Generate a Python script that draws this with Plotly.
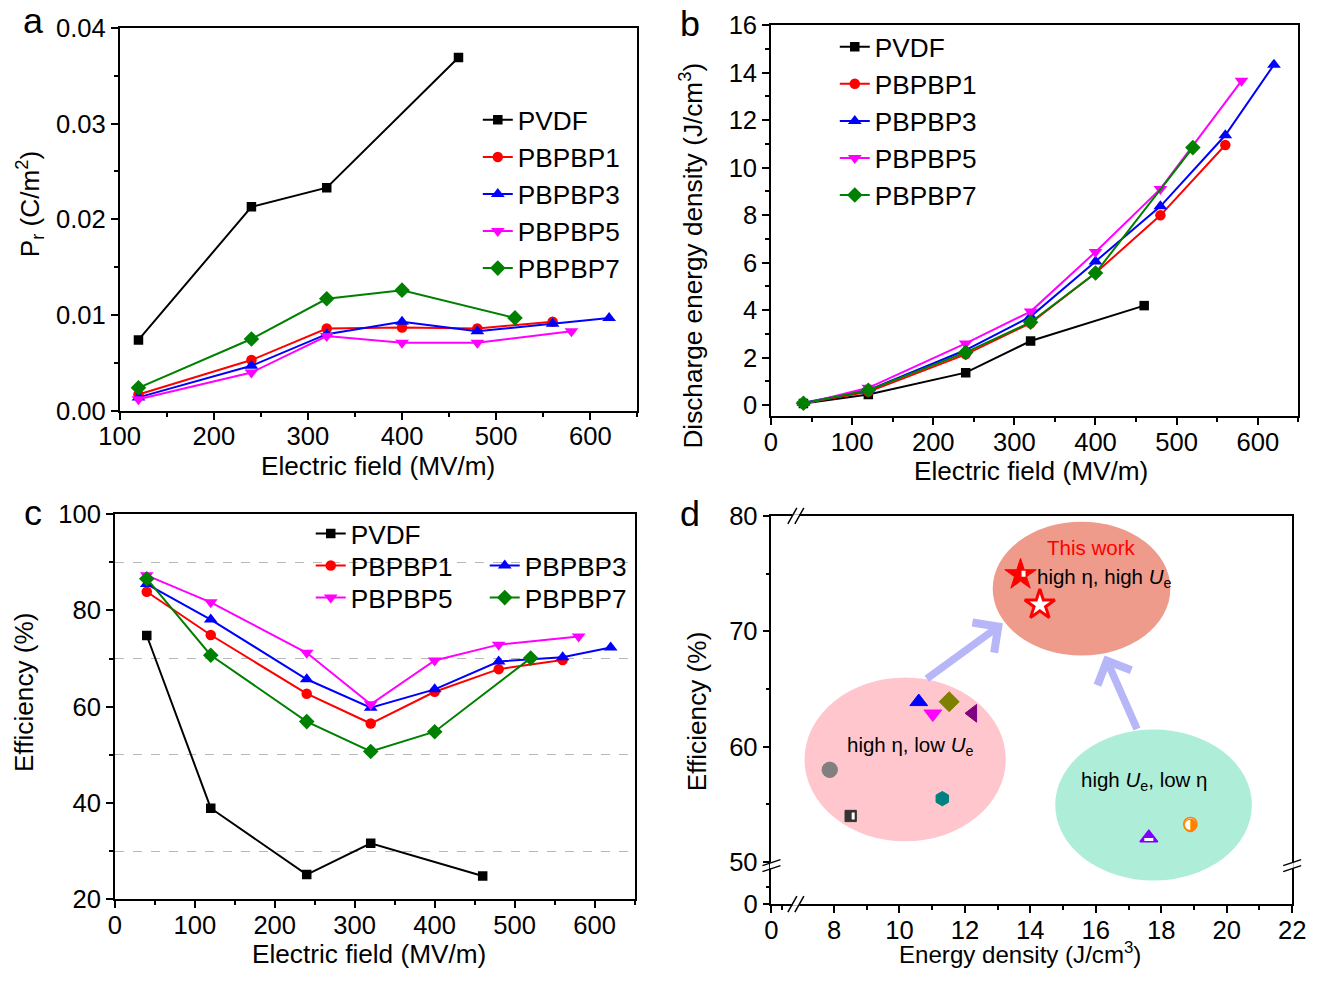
import plotly.graph_objects as go

# ---------------- data ----------------
SAMPLES = ["PVDF", "PBPBP1", "PBPBP3", "PBPBP5", "PBPBP7"]

# (a) remanent polarization vs field
FIELD_A = {
    "PVDF": [120, 240, 320, 460],
    "PBPBP1": [120, 240, 320, 400, 480, 560],
    "PBPBP3": [120, 240, 320, 400, 480, 560, 620],
    "PBPBP5": [120, 240, 320, 400, 480, 580],
    "PBPBP7": [120, 240, 320, 400, 520],
}
PR_PVDF = [0.0074, 0.0213, 0.0233, 0.0369]
PR_P1 = [0.0017, 0.0053, 0.0086, 0.0087, 0.0086, 0.0093]
PR_P3 = [0.0014, 0.0047, 0.0080, 0.0093, 0.0083, 0.0091, 0.0097]
PR_P5 = [0.0012, 0.0040, 0.0078, 0.0071, 0.0071, 0.0083]
PR_P7 = [0.0024, 0.0075, 0.0117, 0.0126, 0.0097]

# (b), (c) field points
FIELD_BC = {
    "PVDF": [40, 120, 240, 320, 460],
    "PBPBP1": [40, 120, 240, 320, 400, 480, 560],
    "PBPBP3": [40, 120, 240, 320, 400, 480, 560, 620],
    "PBPBP5": [40, 120, 240, 320, 400, 480, 580],
    "PBPBP7": [40, 120, 240, 320, 400, 520],
}
# (b) discharge energy density (J/cm3)
UE_PVDF = [0.07, 0.45, 1.37, 2.70, 4.19]
UE_P1 = [0.08, 0.56, 2.14, 3.45, 5.56, 7.99, 10.95]
UE_P3 = [0.10, 0.63, 2.32, 3.73, 6.05, 8.37, 11.36, 14.33]
UE_P5 = [0.05, 0.73, 2.60, 3.94, 6.45, 9.10, 13.65]
UE_P7 = [0.08, 0.63, 2.22, 3.49, 5.56, 10.84]

# (c) efficiency (%)
EFF_PVDF = [74.8, 38.9, 25.1, 31.6, 24.8]
EFF_P1 = [83.9, 74.9, 62.7, 56.5, 63.1, 67.8, 69.7]
EFF_P3 = [85.5, 78.1, 65.7, 59.8, 63.6, 69.4, 70.3, 72.3]
EFF_P5 = [87.3, 81.7, 71.2, 60.5, 69.6, 72.9, 74.6]
EFF_P7 = [86.6, 70.7, 56.9, 50.7, 54.8, 70.1]

# (d) comparison: energy density vs efficiency
THIS_WORK_U = [13.70, 14.29]
THIS_WORK_EFF = [74.9, 72.3]
HIGH_EFF_U = [10.59, 11.02, 11.52, 12.24, 7.87, 8.51, 11.31]
HIGH_EFF_EFF = [63.9, 62.85, 63.9, 62.9, 58.0, 54.0, 55.5]
HIGH_U_U = [17.62, 18.89]
HIGH_U_EFF = [52.1, 53.3]

# broken-axis layout of panel (d)
D_X_ZERO = 6.09      # position where the "0" of the x axis sits
D_Y_ZERO = 46.36     # position where the "0" of the y axis sits
D_X_BREAK = 6.85
D_Y_BREAK = 49.7
D_X_TICKS = [8, 10, 12, 14, 16, 18, 20, 22]
D_Y_TICKS = [50, 60, 70, 80]

# ---------------- page geometry ----------------
W, H = 1322, 981
# the rendered page is placed with a small offset and scale; positions
# below are given in final picture pixels and converted here
OX, SX = 18.5, 0.979
OY, SY = 14.5, 0.970
FS = 1 / 0.975  # font/marker compensation


def ix(t):
    return (t - OX) / SX


def iy(t):
    return (t - OY) / SY


def PX(t):
    return ix(t) / W


def PY(t):
    return 1 - iy(t) / H


def f(sz):
    return round(sz * FS, 1)


FONT = "Liberation Sans, Arial, sans-serif"
COLORS = {"PVDF": "#000000", "PBPBP1": "#ff0000", "PBPBP3": "#0000ff",
          "PBPBP5": "#ff00ff", "PBPBP7": "#008000"}
SYMBOLS = {"PVDF": "square", "PBPBP1": "circle", "PBPBP3": "triangle-up",
           "PBPBP5": "triangle-down", "PBPBP7": "diamond"}
MSIZE = {"PVDF": 9.5, "PBPBP1": 10.5, "PBPBP3": 12, "PBPBP5": 12, "PBPBP7": 12}

PR = {"PVDF": PR_PVDF, "PBPBP1": PR_P1, "PBPBP3": PR_P3, "PBPBP5": PR_P5, "PBPBP7": PR_P7}
UE = {"PVDF": UE_PVDF, "PBPBP1": UE_P1, "PBPBP3": UE_P3, "PBPBP5": UE_P5, "PBPBP7": UE_P7}
EFF = {"PVDF": EFF_PVDF, "PBPBP1": EFF_P1, "PBPBP3": EFF_P3, "PBPBP5": EFF_P5, "PBPBP7": EFF_P7}

fig = go.Figure()


def line_trace(name, x, y, xa, ya, legend):
    return go.Scatter(
        x=x, y=y, name=name, mode="lines+markers", xaxis=xa, yaxis=ya,
        legend=legend,
        line=dict(color=COLORS[name], width=2),
        marker=dict(symbol=SYMBOLS[name], size=MSIZE[name], color=COLORS[name]),
    )


for s in SAMPLES:
    fig.add_trace(line_trace(s, FIELD_A[s], PR[s], "x", "y", "legend"))
for s in SAMPLES:
    fig.add_trace(line_trace(s, FIELD_BC[s], UE[s], "x2", "y2", "legend2"))
c_legends = {"PVDF": "legend3", "PBPBP1": "legend4", "PBPBP3": "legend4",
             "PBPBP5": "legend5", "PBPBP7": "legend5"}
for s in SAMPLES:
    fig.add_trace(line_trace(s, FIELD_BC[s], EFF[s], "x3", "y3", c_legends[s]))

# ---- panel (d): ellipses as background regions ----
regions = [
    dict(x0=12.85, x1=18.28, y0=67.9, y1=79.5, color="#ee9b8b"),   # high eta, high Ue
    dict(x0=7.10, x1=13.25, y0=51.8, y1=66.0, color="#ffc7cd"),    # high eta, low Ue
    dict(x0=14.76, x1=20.77, y0=48.4, y1=61.5, color="#aeeed8"),   # high Ue, low eta
]
shapes = []
for r in regions:
    shapes.append(dict(type="circle", xref="x4", yref="y4", x0=r["x0"], x1=r["x1"],
                       y0=r["y0"], y1=r["y1"], fillcolor=r["color"],
                       line=dict(width=0), layer="below"))

# panel (d) markers (each literature point has its own symbol)
HIGH_EFF_STYLE = [
    ("triangle-up", "#0000ff", 15), ("triangle-down", "#ff00ff", 15),
    ("diamond", "#808000", 15), ("triangle-left", "#800080", 15),
    ("circle", "#808080", 15), ("square", "#333333", 11), ("hexagon", "#008080", 14),
]
for u, e, (sym, col, sz) in zip(HIGH_EFF_U, HIGH_EFF_EFF, HIGH_EFF_STYLE):
    fig.add_trace(go.Scatter(x=[u], y=[e], mode="markers", xaxis="x4", yaxis="y4",
                             showlegend=False,
                             marker=dict(symbol=sym, color=col, size=f(sz),
                                         line=dict(color=col, width=1))))

# high Ue / low eta points
fig.add_trace(go.Scatter(x=[HIGH_U_U[0]], y=[HIGH_U_EFF[0]], mode="markers",
                         xaxis="x4", yaxis="y4", showlegend=False,
                         marker=dict(symbol="triangle-up", color="#8000ff", size=f(15),
                                     line=dict(color="#8000ff", width=1.5))))
fig.add_trace(go.Scatter(x=[HIGH_U_U[1]], y=[HIGH_U_EFF[1]], mode="markers",
                         xaxis="x4", yaxis="y4", showlegend=False,
                         marker=dict(symbol="circle", color="white", size=f(13),
                                     line=dict(color="#ff8000", width=1.5))))

# this work
fig.add_trace(go.Scatter(x=[THIS_WORK_U[0]], y=[THIS_WORK_EFF[0]], mode="markers",
                         xaxis="x4", yaxis="y4", showlegend=False,
                         marker=dict(symbol="star", color="#ff0000", size=f(23),
                                     line=dict(color="#ff0000", width=1))))
fig.add_trace(go.Scatter(x=[THIS_WORK_U[1]], y=[THIS_WORK_EFF[1]], mode="markers",
                         xaxis="x4", yaxis="y4", showlegend=False,
                         marker=dict(symbol="star", color="white", size=f(22),
                                     line=dict(color="#ff0000", width=3))))


def white_patch(x, y, px0, px1, py0, py1):
    # small white patch over part of a marker (half-filled symbols)
    return dict(type="rect", xref="x4", yref="y4", xsizemode="pixel",
                ysizemode="pixel", xanchor=x, yanchor=y, x0=px0, x1=px1,
                y0=py0, y1=py1, fillcolor="white", line=dict(width=0),
                layer="above")


# half-filled decorations on some (d) markers
shapes.append(white_patch(HIGH_EFF_U[5], HIGH_EFF_EFF[5], 1, 4, -3.5, 3.5))
shapes.append(white_patch(HIGH_U_U[0], HIGH_U_EFF[0], -4.5, 4.5, -3, 0))
shapes.append(white_patch(THIS_WORK_U[0], THIS_WORK_EFF[0], 1, 5, -2, 4))

annotations = []
annotations.append(dict(x=HIGH_U_U[1], y=HIGH_U_EFF[1], xref="x4", yref="y4",
                        text="◑", showarrow=False, font=dict(size=f(17), color="#ff8000",
                                                              family="DejaVu Sans")))

# labels inside (d)
D_FS = f(20)
annotations += [
    dict(x=15.84, y=77.3, xref="x4", yref="y4", text="This work", showarrow=False,
         font=dict(size=D_FS, color="#ff0000")),
    dict(x=14.15, y=74.6, xref="x4", yref="y4", xanchor="left",
         text="high η, high <i>U</i><sub>e</sub>", showarrow=False, font=dict(size=D_FS)),
    dict(x=8.35, y=60.1, xref="x4", yref="y4", xanchor="left",
         text="high η, low <i>U</i><sub>e</sub>", showarrow=False, font=dict(size=D_FS)),
    dict(x=15.5, y=57.0, xref="x4", yref="y4", xanchor="left",
         text="high <i>U</i><sub>e</sub>, low η", showarrow=False, font=dict(size=D_FS)),
]
# arrows in (d)
for (tx, ty, hx, hy) in [(10.79, 65.8, 13.16, 70.7), (17.28, 61.4, 16.27, 67.9)]:
    annotations.append(dict(x=hx, y=hy, ax=tx, ay=ty, xref="x4", yref="y4",
                            axref="x4", ayref="y4", text="", showarrow=True,
                            arrowhead=4, arrowsize=0.95, arrowwidth=7.5,
                            arrowcolor="#b6b6f8"))


# axis-break marks in (d)
def brk_h(xanchor, yanchor_dom):
    # break on a horizontal axis line
    out = [dict(type="rect", xref="x4", yref="y4 domain", xsizemode="pixel",
                ysizemode="pixel", xanchor=xanchor, yanchor=yanchor_dom,
                x0=-4, x1=3, y0=-1.6, y1=1.6, fillcolor="white",
                line=dict(width=0), layer="above")]
    for dx in (-4, 3):
        out.append(dict(type="line", xref="x4", yref="y4 domain", xsizemode="pixel",
                        ysizemode="pixel", xanchor=xanchor, yanchor=yanchor_dom,
                        x0=dx - 4.5, x1=dx + 4.5, y0=-8, y1=8,
                        line=dict(color="black", width=1.5), layer="above"))
    return out


def brk_v(xanchor_dom, yanchor):
    # break on a vertical axis line
    out = [dict(type="rect", xref="x4 domain", yref="y4", xsizemode="pixel",
                ysizemode="pixel", xanchor=xanchor_dom, yanchor=yanchor,
                x0=-1.6, x1=1.6, y0=-3, y1=3, fillcolor="white",
                line=dict(width=0), layer="above")]
    for dy in (-3, 3):
        out.append(dict(type="line", xref="x4 domain", yref="y4", xsizemode="pixel",
                        ysizemode="pixel", xanchor=xanchor_dom, yanchor=yanchor,
                        x0=-9, x1=9, y0=dy - 3, y1=dy + 3,
                        line=dict(color="black", width=1.5), layer="above"))
    return out


shapes += brk_h(D_X_BREAK, 0) + brk_h(D_X_BREAK, 1)
shapes += brk_v(0, D_Y_BREAK) + brk_v(1, D_Y_BREAK)

# panel letters
for letter, px, py in [("a", 31, 21), ("b", 691, 24), ("c", 31, 513), ("d", 691, 514)]:
    annotations.append(dict(x=PX(px), y=PY(py), xref="paper", yref="paper",
                            xanchor="center", yanchor="middle",
                            text=letter, showarrow=False, font=dict(size=f(35))))

# axis titles: (text, centre x, centre y, angle, size)
TITLE_FS = f(25.5)
titles = [
    ("Electric field (MV/m)", 378, 466, 0, TITLE_FS),
    ("P<sub>r</sub> (C/m<sup>2</sup>)", 27, 204, -90, TITLE_FS),
    ("Electric field (MV/m)", 1034, 471, 0, TITLE_FS),
    ("Discharge energy density (J/cm<sup>3</sup>)", 692, 256, -90, TITLE_FS),
    ("Electric field (MV/m)", 368, 953, 0, TITLE_FS),
    ("Efficiency (%)", 21, 691, -90, TITLE_FS),
    ("Energy density (J/cm<sup>3</sup>)", 1023, 952, 0, f(23.5)),
    ("Efficiency (%)", 698, 711, -90, TITLE_FS),
]
for txt, px, py, ang, sz in titles:
    annotations.append(dict(x=PX(px), y=PY(py), xref="paper", yref="paper",
                            xanchor="center", yanchor="middle",
                            text=txt, showarrow=False, textangle=ang,
                            font=dict(size=sz)))

TICK_FS = f(25)


def axis(x0, x1, top, bottom, anchor, rng, horizontal, **kw):
    dom = [PX(x0), PX(x1)] if horizontal else [PY(bottom), PY(top)]
    d = dict(domain=dom, anchor=anchor, range=rng, showline=True,
             linecolor="black", linewidth=1.5, mirror=True, ticks="outside",
             ticklen=7, tickwidth=1.5, tickcolor="black", showgrid=False,
             zeroline=False, tickfont=dict(size=TICK_FS, color="black"))
    if horizontal:
        d["ticklabelstandoff"] = -5
    d.update(kw)
    return d


MINOR = dict(ticks="outside", ticklen=4, tickwidth=1.5, tickcolor="black")

# plot areas in picture pixels: (left, right, top, bottom)
A_BOX = (117.7, 638.3, 28.3, 410.7)
B_BOX = (772.7, 1303.0, 25.5, 416.0)
C_BOX = (112.8, 635.6, 514.0, 898.3)
D_BOX = (773.2, 1296.8, 515.7, 903.3)

layout = dict(
    width=W, height=H, margin=dict(l=0, r=0, t=0, b=0),
    paper_bgcolor="white", plot_bgcolor="rgba(0,0,0,0)",
    font=dict(family=FONT, color="black", size=TICK_FS),
    xaxis=axis(*A_BOX, "y", [100, 650], True, tick0=100, dtick=100,
               minor=dict(dtick=50, **MINOR)),
    yaxis=axis(*A_BOX, "x", [0, 0.04], False, dtick=0.01,
               tickformat=".2f", minor=dict(dtick=0.005, **MINOR)),
    xaxis2=axis(*B_BOX, "y2", [0, 650], True, tick0=0, dtick=100,
                minor=dict(dtick=50, **MINOR)),
    yaxis2=axis(*B_BOX, "x2", [-0.46, 16], False, tick0=0, dtick=2,
                minor=dict(tick0=0, dtick=1, **MINOR)),
    xaxis3=axis(*C_BOX, "y3", [0, 650], True, tick0=0, dtick=100,
                minor=dict(dtick=50, **MINOR)),
    yaxis3=axis(*C_BOX, "x3", [20, 100], False, tick0=20, dtick=20,
                minor=dict(dtick=10, showgrid=True, gridcolor="#b8b8b8",
                           griddash="dash", gridwidth=1, **MINOR)),
    xaxis4=axis(*D_BOX, "y4", [D_X_ZERO, 22], True,
                tickvals=[D_X_ZERO] + D_X_TICKS,
                ticktext=["0"] + [str(v) for v in D_X_TICKS],
                minor=dict(tickvals=[6.41] + list(range(9, 22, 2)), **MINOR)),
    yaxis4=axis(*D_BOX, "x4", [D_Y_ZERO, 80], False,
                tickvals=[D_Y_ZERO] + D_Y_TICKS,
                ticktext=["0"] + [str(v) for v in D_Y_TICKS],
                minor=dict(tickvals=[47.86, 55, 65, 75], **MINOR)),
    shapes=shapes,
    annotations=annotations,
)

LEG_FS = f(25.5)
LEG = dict(bgcolor="rgba(0,0,0,0)", borderwidth=0, font=dict(size=LEG_FS),
           xanchor="left", yanchor="top", itemwidth=30, tracegroupgap=0)


def leg_pos(text_x, first_row_y):
    # legend box position from where its first label starts / first row centre
    return dict(x=(ix(text_x) - 41) / W, y=1 - (iy(first_row_y) - 24) / H)


layout["legend"] = dict(LEG, **leg_pos(518, 120))
layout["legend2"] = dict(LEG, **leg_pos(877, 47))
layout["legend3"] = dict(LEG, **leg_pos(350, 533))
layout["legend4"] = dict(LEG, **leg_pos(350, 565), orientation="h", entrywidth=129)
layout["legend5"] = dict(LEG, **leg_pos(350, 597), orientation="h", entrywidth=129)

fig.update_layout(**layout)
fig.write_html("out.html")
